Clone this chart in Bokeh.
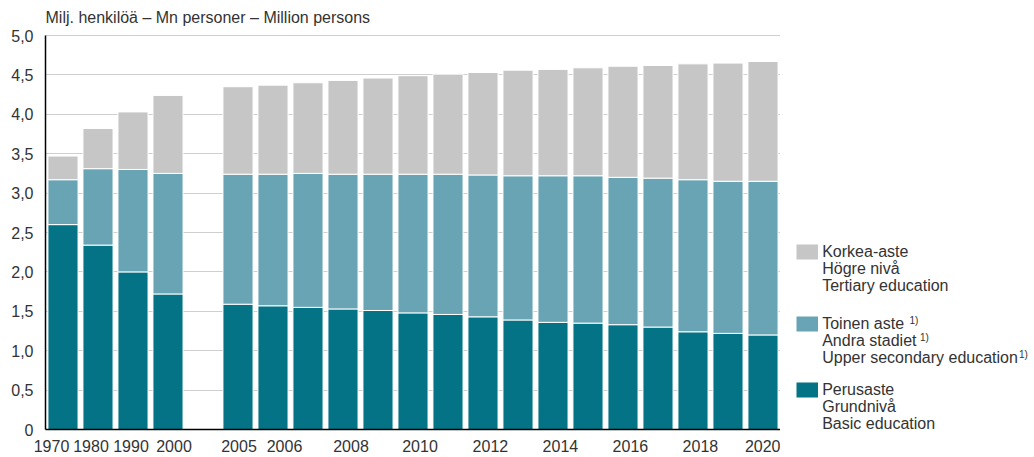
from bokeh.plotting import figure
from bokeh.layouts import row
from bokeh.models import ColumnDataSource, FixedTicker, Range1d
from bokeh.embed import file_html
from bokeh.resources import INLINE
from bokeh.core.properties import value

# ---------------- data ----------------
years = [1970, 1980, 1990, 2000, 2005, 2006, 2007, 2008, 2009, 2010, 2011, 2012,
         2013, 2014, 2015, 2016, 2017, 2018, 2019, 2020]
basic = [2.60, 2.34, 2.00, 1.72, 1.59, 1.57, 1.55, 1.53, 1.51, 1.48, 1.46, 1.43,
         1.39, 1.36, 1.35, 1.33, 1.30, 1.24, 1.22, 1.20]
upper_secondary = [0.57, 0.97, 1.30, 1.53, 1.65, 1.67, 1.70, 1.71, 1.73, 1.76, 1.78, 1.80,
                   1.83, 1.86, 1.87, 1.87, 1.89, 1.93, 1.93, 1.95]
tertiary = [0.30, 0.51, 0.73, 0.99, 1.11, 1.13, 1.15, 1.19, 1.22, 1.25, 1.27, 1.30,
            1.34, 1.35, 1.37, 1.41, 1.43, 1.47, 1.50, 1.52]
tick_years = [1970, 1980, 1990, 2000, 2005, 2006, 2008, 2010, 2012, 2014, 2016, 2018, 2020]
y_ticks = [0.0, 0.5, 1.0, 1.5, 2.0, 2.5, 3.0, 3.5, 4.0, 4.5, 5.0]
y_tick_labels = ["0", "0,5", "1,0", "1,5", "2,0", "2,5", "3,0", "3,5", "4,0", "4,5", "5,0"]
title_text = "Milj. henkilöä – Mn personer – Million persons"
legend_groups = [
    ["Korkea-aste", "Högre nivå", "Tertiary education"],
    ["Toinen aste", "Andra stadiet", "Upper secondary education"],
    ["Perusaste", "Grundnivå", "Basic education"],
]
footnote_mark = "1)"

# ---------------- style ----------------
C_BASIC = "#037385"
C_UPPER = "#69a4b4"
C_TERT = "#c6c6c6"
TXT = "#333333"
FONT = "Liberation Sans"
SLOT_PX = 35.0
# horizontal nudges (px) of the year labels, as placed in the original layout
label_shift_px = [-11.5, -7, -2, 6, 1, 11.5, 8, 7, 7.4, 7.4, 7.4, 7.4, 7.7]

# slot positions: one empty slot between 2000 and 2005
slots = [i if y <= 2000 else i + 1 for i, y in enumerate(years)]
xs = [s + 0.5 for s in slots]
x_of = dict(zip(years, xs))

src = ColumnDataSource(dict(x=xs, basic=basic, upper=upper_secondary, tert=tertiary))

H = 457
MW = 780
TOP = 35          # space between page top and the 5,0 line (holds the title)
PLOT_H = 394      # height of the 0..5 value span
BOTTOM = H - TOP - PLOT_H
Y_MAX = 5.0
px_per_unit = PLOT_H / Y_MAX
p = figure(width=MW, height=H, output_backend="svg", toolbar_location=None,
           x_range=Range1d(0, 21), y_range=Range1d(0, Y_MAX + TOP / px_per_unit),
           min_border_left=45, min_border_right=0, min_border_top=0,
           min_border_bottom=BOTTOM)
p.outline_line_color = None
p.background_fill_color = "white"
p.border_fill_color = "white"

p.vbar_stack(["basic", "upper", "tert"], x="x", width=0.86, source=src,
             fill_color=[C_BASIC, C_UPPER, C_TERT], line_color="white", line_width=1)

# title, 18.5 px above the 5,0 line
p.text(x=[0], y=[Y_MAX + 18.5 / px_per_unit], text=[title_text], text_font=value(FONT),
       text_font_size="16px", text_color=TXT, text_baseline="middle", text_align="left")

p.xgrid.visible = False
p.ygrid.ticker = FixedTicker(ticks=y_ticks)
p.ygrid.grid_line_color = "#cfcfcf"
p.ygrid.grid_line_width = 1

p.yaxis.ticker = FixedTicker(ticks=y_ticks)
p.yaxis.bounds = (0, Y_MAX)
p.yaxis.major_label_overrides = {t: l for t, l in zip(y_ticks, y_tick_labels)}
tick_pos = [x_of[y] + s / SLOT_PX for y, s in zip(tick_years, label_shift_px)]
p.xaxis.ticker = FixedTicker(ticks=tick_pos)
p.xaxis.major_label_overrides = {t: str(y) for t, y in zip(tick_pos, tick_years)}
for ax in (p.xaxis, p.yaxis):
    ax.axis_line_color = "black"
    ax.axis_line_width = 1.5
    ax.major_tick_line_color = None
    ax.minor_tick_line_color = None
    ax.major_tick_out = 0
    ax.major_tick_in = 0
    ax.major_label_text_font = FONT
    ax.major_label_text_font_size = "16px"
    ax.major_label_text_color = TXT
p.yaxis.major_label_standoff = 12
p.xaxis.major_label_standoff = 10

# ---------------- legend panel ----------------
# same top/bottom borders as the main plot, so that y (data) = H - page_y
LW = 1034 - MW
leg = figure(width=LW, height=H, output_backend="svg", toolbar_location=None,
             x_range=Range1d(0, LW), y_range=Range1d(BOTTOM, H),
             min_border_left=0, min_border_right=0, min_border_top=0,
             min_border_bottom=BOTTOM)
leg.outline_line_color = None
leg.grid.visible = False
leg.xaxis.visible = False
leg.yaxis.visible = False

sq_top = [213, 141, 75]
mid0 = [206, 134, 68]   # vertical middle of the first text line of each group
colors = [C_TERT, C_UPPER, C_BASIC]
leg.quad(left=[16] * 3, right=[37.5] * 3, top=sq_top, bottom=[t - 15 for t in sq_top],
         fill_color=colors, line_color=None)
tx, ty, tt = [], [], []
for g, lines in enumerate(legend_groups):
    for k, s in enumerate(lines):
        tx.append(41.7)
        ty.append(mid0[g] - 17 * k)
        tt.append(s)
leg.text(x=tx, y=ty, text=tt, text_font=value(FONT), text_font_size="16px",
         text_color=TXT, text_baseline="middle", text_align="left")
sup_x = [129, 139.5, 238.5]
sup_y = [mid0[1] + 3 - 17 * k for k in range(3)]
leg.text(x=sup_x, y=sup_y, text=[footnote_mark] * 3, text_font=value(FONT),
         text_font_size="10px", text_color=TXT, text_baseline="middle", text_align="left")

layout = row(p, leg)
open("out.html", "w").write(file_html(layout, INLINE))
